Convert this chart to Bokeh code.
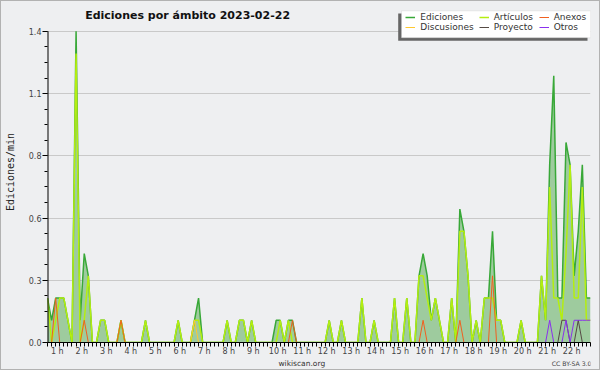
import math
from bokeh.plotting import figure
from bokeh.layouts import column
from bokeh.models import Range1d, FixedTicker, Label, BoxAnnotation, Legend, LegendItem
from bokeh.embed import file_html
from bokeh.resources import INLINE

# 10-minute slots, values in edits per minute
ediciones = [0.2, 0.1, 0.2, 0.2, 0.2, 0.1, 0.0, 1.4, 0.1, 0.4, 0.3, 0.0, 0.0, 0.1, 0.1, 0.0, 0.0, 0.0, 0.1, 0.0,
             0.0, 0.0, 0.0, 0.0, 0.1, 0.0, 0.0, 0.0, 0.0, 0.0, 0.0, 0.0, 0.1, 0.0, 0.0, 0.0, 0.1, 0.2, 0.0, 0.0,
             0.0, 0.0, 0.0, 0.0, 0.1, 0.0, 0.0, 0.1, 0.1, 0.0, 0.1, 0.0, 0.0, 0.0, 0.0, 0.0, 0.1, 0.1, 0.0, 0.1,
             0.1, 0.0, 0.0, 0.0, 0.0, 0.0, 0.0, 0.0, 0.0, 0.1, 0.0, 0.0, 0.1, 0.0, 0.0, 0.0, 0.0, 0.2, 0.0, 0.0,
             0.1, 0.0, 0.0, 0.0, 0.0, 0.2, 0.0, 0.0, 0.2, 0.0, 0.0, 0.3, 0.4, 0.3, 0.1, 0.2, 0.1, 0.0, 0.0, 0.2,
             0.0, 0.6, 0.5, 0.3, 0.0, 0.1, 0.0, 0.2, 0.2, 0.5, 0.1, 0.1, 0.0, 0.0, 0.0, 0.0, 0.1, 0.0, 0.0, 0.0,
             0.0, 0.3, 0.1, 0.8, 1.2, 0.2, 0.2, 0.9, 0.8, 0.3, 0.5, 0.8, 0.2, 0.2]
articulos = [0.2, 0.0, 0.1, 0.2, 0.2, 0.1, 0.0, 1.3, 0.0, 0.1, 0.3, 0.0, 0.0, 0.1, 0.1, 0.0, 0.0, 0.0, 0.1, 0.0,
             0.0, 0.0, 0.0, 0.0, 0.1, 0.0, 0.0, 0.0, 0.0, 0.0, 0.0, 0.0, 0.1, 0.0, 0.0, 0.0, 0.1, 0.1, 0.0, 0.0,
             0.0, 0.0, 0.0, 0.0, 0.1, 0.0, 0.0, 0.1, 0.1, 0.0, 0.1, 0.0, 0.0, 0.0, 0.0, 0.0, 0.0, 0.1, 0.0, 0.1,
             0.0, 0.0, 0.0, 0.0, 0.0, 0.0, 0.0, 0.0, 0.0, 0.1, 0.0, 0.0, 0.1, 0.0, 0.0, 0.0, 0.0, 0.2, 0.0, 0.0,
             0.1, 0.0, 0.0, 0.0, 0.0, 0.2, 0.0, 0.0, 0.2, 0.0, 0.0, 0.3, 0.3, 0.2, 0.1, 0.2, 0.1, 0.0, 0.0, 0.2,
             0.0, 0.5, 0.5, 0.3, 0.0, 0.1, 0.0, 0.2, 0.2, 0.2, 0.1, 0.1, 0.0, 0.0, 0.0, 0.0, 0.1, 0.0, 0.0, 0.0,
             0.0, 0.3, 0.1, 0.7, 0.2, 0.2, 0.1, 0.4, 0.8, 0.2, 0.2, 0.7, 0.1, 0.1]
anexos = [0.0] * 2 + [0.2] + [0.0] * 6 + [0.1] + [0.0] * 8 + [0.1] + [0.0] * 41 + [0.1] + [0.0] * 31 + [0.1] + \
         [0.0] * 8 + [0.1] + [0.0] * 7 + [0.3] + [0.0] * 24
discusiones = [0.0] * 36 + [0.1] + [0.0] * 97
proyecto = [0.0] * 126 + [0.1, 0.1, 0.0, 0.0, 0.1, 0.0, 0.0, 0.0]
otros = [0.0] * 123 + [0.1, 0.0, 0.0, 0.0, 0.1, 0.0, 0.1, 0.1, 0.1, 0.1, 0.1]

hour_labels = ["%d h" % k for k in range(1, 23)]
y_tick_values = [0.0, 0.28, 0.56, 0.84, 1.12, 1.4]
y_tick_labels = ["0.0", "0.3", "0.6", "0.8", "1.1", "1.4"]
y_max = 1.4

N = len(ediciones)
slots = list(range(N))

BG = "#eeeff1"
W, H = 598, 357
FL, FB = 45, 14          # frame left / bottom border
FH = H - FB              # frame reaches the top of the canvas
p = figure(width=W, height=H, output_backend="svg", toolbar_location=None, title=None,
           x_range=Range1d(0, N - 1), y_range=Range1d(0, y_max * FH / (FH - 30)),
           min_border_left=FL, min_border_right=9, min_border_top=0, min_border_bottom=FB)
p.background_fill_color = BG
p.border_fill_color = BG
p.outline_line_color = None

# axes
hour_pos = [6 * k - 3.6 for k in range(1, 23)]
p.xaxis.ticker = FixedTicker(ticks=hour_pos, minor_ticks=slots)
p.xaxis.major_label_overrides = {t: l for t, l in zip(hour_pos, hour_labels)}
p.xaxis.major_tick_line_color = None
p.xaxis.major_tick_out = 4
p.xaxis.major_tick_in = 0
p.xaxis.minor_tick_out = 4
p.xaxis.minor_tick_in = 0
p.xaxis.major_label_standoff = 0
p.xaxis.axis_line_color = "black"

minor_y = [round(0.07 * k, 2) for k in range(21)]
p.yaxis.ticker = FixedTicker(ticks=y_tick_values, minor_ticks=minor_y)
p.yaxis.major_label_overrides = {t: l for t, l in zip(y_tick_values, y_tick_labels)}
p.yaxis.major_tick_out = 5
p.yaxis.major_tick_in = 0
p.yaxis.minor_tick_out = 3
p.yaxis.minor_tick_in = 0
p.yaxis.major_label_standoff = 1
p.yaxis.axis_line_color = None
p.yaxis.major_tick_line_color = "black"
p.yaxis.axis_label = "Ediciones/min"
p.yaxis.axis_label_text_font = "DejaVu Sans Mono"
p.yaxis.axis_label_text_font_size = "10px"
p.yaxis.axis_label_text_font_style = "normal"
p.yaxis.axis_label_text_color = "#222222"
p.yaxis.axis_label_standoff = 10

for ax in (p.xaxis, p.yaxis):
    ax.minor_tick_line_color = "black"
    ax.major_label_text_font = "DejaVu Sans"
    ax.major_label_text_font_size = "8px"
    ax.major_label_text_color = "#444444"

p.xgrid.visible = False
p.ygrid.grid_line_color = "#c9c9c9"
p.ygrid.grid_line_width = 1

# series
p.varea(x=slots, y1=[0.0] * N, y2=ediciones, fill_color="#9ecb9e")
r_ed = p.line(slots, ediciones, line_color="#38a838", line_width=1.5)
r_ar = p.line(slots, articulos, line_color="#b4ee10", line_width=1.5)
r_di = p.line(slots, discusiones, line_color="#ffc830", line_width=1)
r_pr = p.line(slots, proyecto, line_color="#554a44", line_width=1)
r_ot = p.line(slots, otros, line_color="#8a30ee", line_width=1)
r_an = p.line(slots, anexos, line_color="#f06020", line_width=1)
# y axis spine (ends at the top tick)
p.line([0, 0], [0, y_max], line_color="black", line_width=2)

# legend box + shadow (screen units relative to the frame)
def sbox(l, r, b, t, **kw):
    return BoxAnnotation(left=l, right=r, bottom=b, top=t, left_units="screen", right_units="screen",
                         bottom_units="screen", top_units="screen", **kw)

p.add_layout(sbox(350.7, 540.0, 301.7, 329.0, fill_color="#666666", fill_alpha=1.0, line_color=None))
p.add_layout(sbox(354.0, 543.3, 304.7, 331.7, fill_color="white", fill_alpha=1.0,
                  line_color="#c4c4c4", line_width=1))

columns = [[("Ediciones", r_ed), ("Discusiones", r_di)],
           [("Artículos", r_ar), ("Proyecto", r_pr)],
           [("Anexos", r_an), ("Otros", r_ot)]]
col_x = [358.3, 431.7, 491.7]
for cx, col in zip(col_x, columns):
    lg = Legend(items=[LegendItem(label=t, renderers=[r]) for t, r in col],
                location=(cx, 310), orientation="vertical",
                glyph_width=10, glyph_height=10, label_height=10, label_standoff=5, spacing=0,
                padding=0, margin=0, label_text_font="DejaVu Sans", label_text_font_size="9px",
                label_text_color="#333333", background_fill_alpha=0.0, border_line_color=None)
    p.add_layout(lg, "center")

# title
p.add_layout(Label(x=142, y=326.7, x_units="screen", y_units="screen",
                   text="Ediciones por ámbito  2023-02-22", text_font="DejaVu Sans",
                   text_font_style="bold", text_font_size="11px", text_color="#111111",
                   text_align="center", text_baseline="alphabetic"))

# footer strip (its frame is aligned with the main frame by the column layout)
f = figure(width=W, height=368 - H, output_backend="svg", toolbar_location=None, title=None,
           x_range=Range1d(0, 1), y_range=Range1d(0, 1), x_axis_location=None, y_axis_location=None,
           min_border_left=0, min_border_right=0, min_border_top=0, min_border_bottom=0)
f.background_fill_color = BG
f.border_fill_color = BG
f.outline_line_color = None
f.grid.visible = False
f.add_layout(Label(x=254.3, y=7.4, x_units="screen", y_units="screen", text="wikiscan.org",
                   text_font="DejaVu Sans", text_font_size="7.5px", text_color="#333333",
                   text_align="center", text_baseline="middle"))
f.add_layout(Label(x=544, y=7.0, x_units="screen", y_units="screen", text="CC BY-SA 3.0",
                   text_font="DejaVu Sans", text_font_size="6.2px", text_color="#444444",
                   text_align="right", text_baseline="middle"))

layout = column(p, f, spacing=0, styles={"border": "1px solid #b2b2b2", "background-color": BG})
open("out.html", "w").write(file_html(layout, INLINE))
